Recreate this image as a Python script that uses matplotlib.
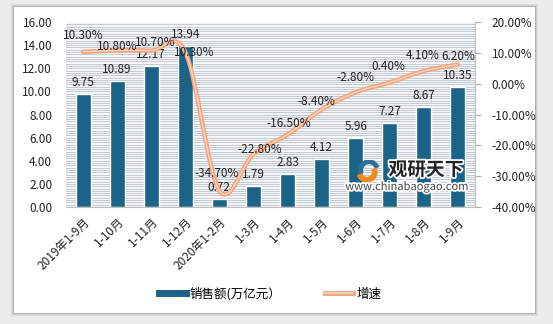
import numpy as np
import matplotlib
matplotlib.use("Agg")
import matplotlib.pyplot as plt
import matplotlib.patheffects as pe
from matplotlib.path import Path
from matplotlib.patches import PathPatch, Rectangle, Wedge
from matplotlib.lines import Line2D

plt.rcParams['font.family'] = ['Noto Sans CJK SC', 'DejaVu Sans']

# data
categories = ['2019年1-9月', '1-10月', '1-11月', '1-12月', '2020年1-2月', '1-3月',
              '1-4月', '1-5月', '1-6月', '1-7月', '1-8月', '1-9月']
sales = [9.75, 10.89, 12.17, 13.94, 0.72, 1.79, 2.83, 4.12, 5.96, 7.27, 8.67, 10.35]
growth = [10.30, 10.80, 10.70, 10.30, -34.70, -22.80, -16.50, -8.40, -2.80, 0.40, 4.10, 6.20]

# label nudges for the growth labels (pixels), to match the original placement
growth_label_offsets = [(0, 16), (0, 4), (4, 8), (9, -1), (-3, 17), (6, 4),
                        (1, 11), (-5, 8), (0, 15), (-1, 16), (-1, 16), (0, 8)]

bar_color = '#1b6387'
line_color = '#f5a47b'

fig = plt.figure(figsize=(5.53, 3.24), dpi=100)
fig.patch.set_facecolor('#ececec')

# white card with a soft shadow
W, H = 553, 324
for i, a in enumerate([0.05, 0.08, 0.12]):
    fig.patches.append(Rectangle(((14 - 3 + i) / W, 1 - (313 + 3 - i) / H),
                                 (521 + 6 - 2 * i) / W, (306 + 6 - 2 * i) / H,
                                 transform=fig.transFigure, facecolor='black',
                                 alpha=a, edgecolor='none', zorder=-10))
fig.patches.append(Rectangle((14 / W, 1 - 313 / H), 521 / W, 306 / H,
                             transform=fig.transFigure, facecolor='white',
                             edgecolor='none', zorder=-9))

ax = fig.add_axes([66 / W, 1 - 207 / H, 409 / W, 185 / H])
ax.set_facecolor('#f4f6f8')
x = np.arange(len(categories))

# striped background
for yy in np.arange(0.2, 16, 0.2):
    ax.axhline(yy, color='#c3cad1', lw=0.7, zorder=0)

ax.bar(x, sales, width=0.44, color=bar_color, edgecolor='white', linewidth=1.0, zorder=2)
for xi, v in zip(x, sales):
    ax.annotate(f'{v:.2f}', (xi, v), xytext=(0, 5), textcoords='offset pixels',
                ha='center', va='bottom', fontsize=8.5, color='#222222', zorder=5)

ax.set_xlim(-0.5, len(categories) - 0.5)
ax.set_ylim(0, 16)
ax.set_yticks(np.arange(0, 16.1, 2))
ax.set_yticklabels([f'{t:.2f}' for t in np.arange(0, 16.1, 2)])
ax.set_xticks(x)
ax.set_xticklabels(categories, rotation=45, ha='right', rotation_mode='anchor')
ax.tick_params(axis='x', length=0, pad=6, labelsize=8.5, colors='#222222')
ax.tick_params(axis='y', length=0, pad=10, labelsize=8.5, colors='#222222')
for s in ['top', 'left', 'right']:
    ax.spines[s].set_visible(False)
ax.spines['bottom'].set_color('#bfbfbf')

ax2 = ax.twinx()
ax2.set_ylim(-40, 20)
ax2.set_yticks(np.arange(-40, 21, 10))
ax2.set_yticklabels([f'{t:.2f}%' for t in np.arange(-40, 21, 10)])
ax2.tick_params(axis='y', length=4, pad=8, labelsize=8.5, colors='#222222', color='#aaaaaa')
for s in ['top', 'left', 'bottom']:
    ax2.spines[s].set_visible(False)
ax2.spines['right'].set_color('#bfbfbf')

# smoothed growth line (Excel-style bezier through the data points)
pts = np.column_stack([x, growth]).astype(float)
verts = [tuple(pts[0])]
codes = [Path.MOVETO]
n = len(pts)
for i in range(n - 1):
    p0 = pts[max(i - 1, 0)]
    p1 = pts[i]
    p2 = pts[i + 1]
    p3 = pts[min(i + 2, n - 1)]
    c1 = p1 + (p2 - p0) / 6
    c2 = p2 - (p3 - p1) / 6
    verts += [tuple(c1), tuple(c2), tuple(p2)]
    codes += [Path.CURVE4] * 3
path = Path(verts, codes)
ax2.add_patch(PathPatch(path, facecolor='none', edgecolor=line_color, lw=3.2, zorder=3,
                        capstyle='round'))
ax2.add_patch(PathPatch(path, facecolor='none', edgecolor='#fbd5c0', lw=1.0, zorder=4))

for xi, v, (dx, dy) in zip(x, growth, growth_label_offsets):
    ax2.annotate(f'{v:.2f}%', (xi, v), xytext=(dx, dy), textcoords='offset pixels',
                 ha='center', va='center', fontsize=8.5, color='#222222', zorder=6)

# watermark: small swirl icon + name + url
icon = fig.add_axes([352 / W, 1 - 182 / H, 32 / W, 22 / H], zorder=10)
icon.set_xlim(-1.6, 1.6)
icon.set_ylim(-1.1, 1.1)
icon.set_aspect('equal')
icon.axis('off')
icon.add_patch(Wedge((0.1, 0.1), 1.0, 20, 200, width=0.35, color='#2b6f9a'))
icon.add_patch(Wedge((-0.1, -0.1), 1.0, 200, 380, width=0.45, color='#f08a1c'))
glow = [pe.withStroke(linewidth=2.5, foreground='white')]
fig.text(426 / W, 1 - 170 / H, '观研天下', fontsize=13.5, fontweight='heavy',
         color='#222222', ha='center', va='center', zorder=11, path_effects=glow)
fig.text(407 / W, 1 - 187 / H, 'www.chinabaogao.com', fontsize=8,
         color='#444444', ha='center', va='center', zorder=11, path_effects=glow)

handles = [Line2D([0], [0], color=bar_color, lw=5),
           (Line2D([0], [0], color=line_color, lw=3.5),
            Line2D([0], [0], color='#fbd5c0', lw=1.2))]
leg = fig.legend(handles, ['销售额(万亿元）', '增速'], loc='center',
                 bbox_to_anchor=(270 / W, 1 - 294 / H), ncol=2, frameon=True,
                 fontsize=9, handlelength=2.2, columnspacing=3.5, handletextpad=0.3)
leg.get_frame().set_edgecolor('none')
leg.get_frame().set_facecolor('white')
leg.get_frame().set_boxstyle('square', pad=0.3)

fig.savefig('out.png', dpi=100, facecolor=fig.get_facecolor())
